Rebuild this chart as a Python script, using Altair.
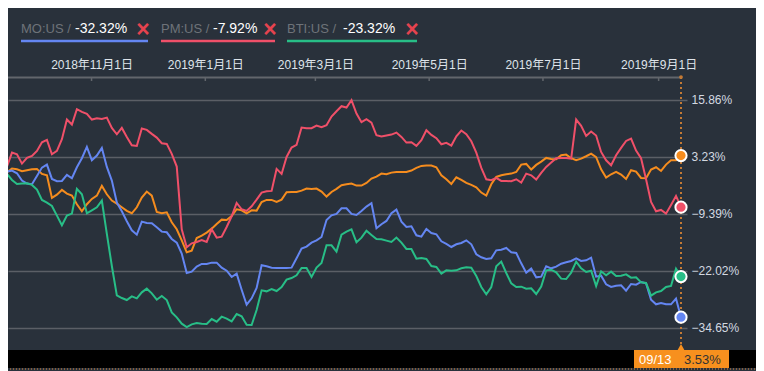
import altair as alt
import pandas as pd

START = "2018-09-14"
END = "2019-09-13"

mo_us = [0, -0.02, 0.20, -0.39, -2.02, -2.69, -2.83, -0.99, 0.86, 1.53, -1.65, -2.17, -2.10, -0.76, -1.50,
         0.94, 2.94, 5.45, 2.49, 3.53, 5.23, 1.01, -2.02, -6.90, -8.83, -11.05, -13.05, -14.01, -11.12, -11.42,
         -11.49, -12.38, -13.34, -13.49, -14.97, -15.78, -18.22, -22.52, -22.22, -21.11, -20.52, -20.52, -20.22,
         -20.22, -21.33, -22.00,
         -23.40, -22.66, -26.22, -29.55, -28.14, -25.85, -20.81, -21.04, -21.33, -21.41, -21.41, -21.41, -21.33,
         -19.26, -17.12, -16.67, -15.78, -15.27, -14.53, -10.75, -9.72, -9.42, -8.16, -8.16, -9.42, -9.64, -8.75,
         -7.79, -7.05, -12.60, -11.71, -10.97, -9.27, -8.46, -11.12, -12.31, -12.16, -14.16, -14.45, -12.75,
         -13.64, -13.93, -15.49, -16.08, -16.75,
         -16.15, -15.86, -15.27, -16.15, -18.37, -19.04, -19.41, -19.26, -17.49, -17.34, -16.97, -17.93, -18.08,
         -20.37, -22.44, -21.55, -23.48, -23.33, -21.04, -21.48, -21.11, -20.45, -20.15, -19.85, -19.26, -19.85,
         -19.70, -19.11, -23.33, -23.11, -25.03, -25.62, -25.33, -25.25, -26.44, -24.96, -25.11, -24.51, -24.81,
         -28.44, -29.47, -29.17, -29.47, -29.47, -28.21, -32.32]

pm_us = [0, 1.09, 4.19, 3.82, 1.75, 3.01, 3.45, 4.56, 6.49, 7.01, 3.82, 4.56, 7.15, 11.52, 10.41, 13.81, 13.22,
         12.78, 11.52, 11.81, 11.67, 11.96, 9.67, 8.26, 9.67, 7.67, 5.82, 5.67, 9.52, 9.23, 8.34, 7.52, 6.27,
         6.12, 3.90, 1.09, -12.82, -16.82, -15.93, -15.64, -15.19, -15.64, -12.82, -14.67, -14.45, -12.31,
         -9.94, -6.98, -8.38, -8.75, -7.72, -6.24, -4.68, -4.39, -4.31, 0.57, -0.54, 3.23, 5.30, 5.90, 9.74,
         9.60, 9.60, 10.19, 9.82, 10.26, 12.18, 13.37, 14.48, 14.18, 15.81, 12.85, 10.93, 11.59, 10.85, 8.04,
         7.75, 7.97, 8.19, 8.63, 7.67, 6.41, 6.49, 5.67, 6.93, 9.15, 8.12, 7.38, 6.04, 6.34, 5.75,
         7.82, 9.08, 8.26, 6.71, 4.19, 0.79, -1.73, -1.95, -1.43, -2.10, -2.10, -2.17, -1.73, -2.47, -0.47,
         -0.84, -1.80, -0.32, 1.01, 1.97, 2.94, 3.01, 3.01, 2.86, 11.52, 10.11, 7.89, 8.86, 7.97, 4.34, 2.49,
         1.38, 3.60, 5.23, 6.78, 7.30, 4.64, 2.94, -1.73, -6.76, -8.83, -8.53, -9.35, -7.42, -5.42, -7.92]

bti_us = [0, -0.54, -1.87, -2.76, -2.69, -2.61, -2.98, -4.02, -6.31, -6.90, -7.64, -9.79, -11.93, -9.79, -9.35,
          -3.87, -5.05, -9.27, -8.61, -7.94, -6.46, -13.86, -20.96, -27.47, -28.07, -28.51, -27.70, -28.14,
          -26.81, -25.99, -27.03, -28.44, -27.62, -28.51, -31.25, -32.36, -33.76, -34.50, -33.91, -33.62, -33.76,
          -33.84, -32.73, -33.32, -32.21, -32.65,
          -33.24, -31.62, -32.13, -33.99, -34.06, -30.73, -26.36, -26.59, -26.07, -26.51, -25.62, -24.00, -23.63,
          -23.03, -21.41, -21.41, -23.40, -21.33, -20.30, -16.38, -16.38, -17.78, -14.01, -13.34, -12.82, -15.71,
          -14.67, -13.12, -14.08, -14.97, -15.04, -15.34, -15.64, -14.67, -15.78, -17.19, -17.19, -19.33, -19.19,
          -19.41, -20.96, -21.18, -22.66, -21.93, -22.00,
          -21.93, -21.48, -21.26, -21.33, -23.18, -25.62, -27.25, -25.62, -21.04, -20.00, -22.52, -24.81, -25.62,
          -25.55, -25.99, -25.92, -27.18, -25.55, -21.93, -21.78, -22.37, -23.77, -23.85, -22.44, -20.00, -21.48,
          -22.29, -22.00, -25.40, -22.15, -23.03, -22.22, -23.18, -23.11, -22.81, -23.55, -23.48, -24.59, -24.74,
          -27.55, -26.81, -26.51, -25.62, -25.40, -21.56, -23.32]

benchmark = [0, -0.17, 0.64, 0.49, 0.05, 0.27, 0.49, 0.57, -0.54, -0.84, -5.87, -5.13, -4.09, -4.91, -5.35,
             -7.27, -8.83, -7.27, -6.09, -5.35, -3.20, -5.05, -6.46, -7.13, -7.94, -8.75, -9.27, -7.94, -5.79,
             -4.46, -5.35, -8.98, -9.27, -9.05, -11.27, -12.82, -15.27, -17.93, -17.56, -14.75, -14.23, -13.56,
             -12.68, -11.64, -10.68, -10.75,
             -9.86, -8.38, -8.61, -9.27, -8.61, -8.68, -6.76, -6.31, -6.31, -6.76, -6.24, -4.61, -4.54, -4.54,
             -4.24, -3.80, -3.87, -3.80, -4.46, -5.57, -4.54, -3.87, -3.06, -2.83, -2.69, -3.13, -3.13, -2.54,
             -1.58, -1.13, -0.47, -0.62, -0.25, -0.10, -0.10, -0.10, 0.20, 0.79, 1.23, 1.31, 1.31, 0.94, -0.84,
             -1.73, -2.76,
             -1.28, -1.87, -2.54, -2.98, -3.50, -4.68, -5.35, -2.83, -1.21, -0.84, -0.62, -0.47, -0.10, 1.53,
             1.68, 0.42, 1.46, 2.20, 3.01, 2.79, 2.71, 3.60, 3.75, 2.94, 2.49, 2.86, 3.38, 3.97, 3.16, 0.49,
             -1.36, -0.62, -0.10, -0.69, -1.65, 0.27, -0.02, -1.43, -1.50, 0.42, 0.94, 0.12, 1.53, 2.49, 2.49, 3.53]

legend_labels = ["MO:US /", "PM:US /", "BTI:US /"]
legend_changes = ["-32.32%", "-7.92%", "-23.32%"]
y_tick_values = [15.86, 3.23, -9.39, -22.02, -34.65]
x_tick_dates = ["2018-11-01", "2019-01-01", "2019-03-01", "2019-05-01", "2019-07-01", "2019-09-01"]
cursor_label = "09/13"
cursor_value = "3.53%"

BG = "#29313b"
C_MO, C_PM, C_BTI, C_IDX = "#6486f2", "#f05069", "#28be87", "#f58c1e"
GRID = "#5b5f66"
FONT = "Liberation Sans"
CJK = "Liberation Sans, Noto Sans CJK JP"

W, H = 673, 273
n = len(mo_us)
dates = pd.date_range(START, END, periods=n)
date_iso = [d.strftime("%Y-%m-%dT%H:%M:%SZ") for d in dates]


def frame(vals):
    return pd.DataFrame({"date": date_iso, "value": vals})


one = pd.DataFrame({"k": [0]})

x_scale = alt.Scale(type="utc", nice=False, range=[-6, W])
y_scale = alt.Scale(domain=[-39.60, 20.96], nice=False, zero=False)

tick_dt = [pd.Timestamp(s) for s in x_tick_dates]
x_axis = alt.Axis(
    orient="top", values=[alt.DateTime(year=t.year, month=t.month, date=t.day, utc=True) for t in tick_dt],
    format="%Y年%-m月%-d日", labelColor="#dfe4ea", labelFont=CJK, labelFontSize=12, labelPadding=6,
    ticks=False, grid=False, domainColor="#62666c", domainWidth=2, title=None, labelAngle=0,
    labelOverlap=False, labelFlush=False,
)
y_axis = alt.Axis(
    orient="right", values=y_tick_values, labelExpr="format(datum.value, '.2f') + '%'",
    grid=True, gridColor=GRID, gridWidth=1.5, domain=False, ticks=False, labelPadding=10,
    labelColor="#d3d9e1", labelFontSize=12, labelFont=FONT, title=None,
)

X = alt.X("date:T", scale=x_scale, axis=x_axis)
Y = alt.Y("value:Q", scale=y_scale, axis=y_axis)

layers = []
for vals, col in [(benchmark, C_IDX), (mo_us, C_MO), (pm_us, C_PM), (bti_us, C_BTI)]:
    layers.append(alt.Chart(frame(vals)).mark_line(color=col, strokeWidth=2).encode(x=X, y=Y))

# top axis ticks pointing down
layers.append(
    alt.Chart(pd.DataFrame({"date": x_tick_dates})).mark_rule(color="#62666c", strokeWidth=1.5)
    .encode(x=X, y=alt.value(0), y2=alt.value(4))
)

# cursor line
last = pd.DataFrame({"date": [date_iso[-1]]})
layers.append(
    alt.Chart(last).mark_rule(color="#c47a35", strokeWidth=2, strokeDash=[2, 3])
    .encode(x=X, y=alt.value(0), y2=alt.value(H))
)
layers.append(
    alt.Chart(last).mark_circle(size=14, color="#c47a35", opacity=1)
    .encode(x=X, y=alt.value(0))
)

# end dots
ends = pd.DataFrame({
    "date": [date_iso[-1]] * 4,
    "value": [benchmark[-1], pm_us[-1], bti_us[-1], mo_us[-1]],
    "s": ["IDX", "PM", "BTI", "MO"],
})
layers.append(
    alt.Chart(ends).mark_circle(size=125, stroke="white", strokeWidth=2, opacity=1)
    .encode(x=X, y=Y, fill=alt.Fill("s:N", scale=alt.Scale(domain=["IDX", "PM", "BTI", "MO"],
                                                            range=[C_IDX, C_PM, C_BTI, C_MO]), legend=None))
)

# legend
leg_colors = [C_MO, C_PM, C_BTI]
label_x = [13, 153, 279]
value_x = [67, 205, 335]
cross_x = [135, 262, 404]
line_end = [140, 267, 409]
for i in range(3):
    layers.append(alt.Chart(one).mark_text(text=legend_labels[i], align="left", baseline="alphabetic",
                                           font=FONT, fontSize=13, color="#6e7379")
                  .encode(x=alt.value(label_x[i]), y=alt.value(-44)))
    layers.append(alt.Chart(one).mark_text(text=legend_changes[i], align="left", baseline="alphabetic",
                                           font=FONT, fontSize=14, color="#ffffff")
                  .encode(x=alt.value(value_x[i]), y=alt.value(-44)))
    layers.append(alt.Chart(one).mark_text(text="×", align="center", baseline="alphabetic",
                                           font=FONT, fontSize=23, fontWeight="bold", color="#e5434f")
                  .encode(x=alt.value(cross_x[i]), y=alt.value(-40)))
    layers.append(alt.Chart(one).mark_rule(color=leg_colors[i], strokeWidth=2.5)
                  .encode(x=alt.value(label_x[i]), x2=alt.value(line_end[i]), y=alt.value(-36)))

# bottom bar and cursor tooltip
layers.append(alt.Chart(one).mark_rect(color="#000000")
              .encode(x=alt.value(-10), x2=alt.value(760), y=alt.value(H), y2=alt.value(H + 18)))
layers.append(alt.Chart(one).mark_rect(color="#f7901e")
              .encode(x=alt.value(626), x2=alt.value(721), y=alt.value(H), y2=alt.value(H + 18)))
layers.append(alt.Chart(last).mark_point(shape="triangle-up", filled=True, size=45, color="#f7901e", opacity=1)
              .encode(x=X, y=alt.value(H - 3)))
layers.append(alt.Chart(one).mark_text(text=cursor_label, align="left", baseline="alphabetic",
                                       font=FONT, fontSize=13, color="#ffffff")
              .encode(x=alt.value(631), y=alt.value(H + 14)))
layers.append(alt.Chart(one).mark_text(text=cursor_value, align="left", baseline="alphabetic",
                                       font=FONT, fontSize=13, color="#333333")
              .encode(x=alt.value(676), y=alt.value(H + 14)))
layers.append(alt.Chart(one).mark_rule(color="#e0893a", strokeWidth=1, strokeDash=[1, 2])
              .encode(x=alt.value(-10), x2=alt.value(760), y=alt.value(H + 19)))

chart = alt.layer(*layers).properties(
    width=W, height=H,
    padding={"left": 0, "top": 69, "right": 75, "bottom": 21},
    autosize=alt.AutoSizeParams(type="none"),
).configure(background=BG).configure_view(stroke=None)

chart.save("out.html", embed_options={"renderer": "svg", "actions": False})
